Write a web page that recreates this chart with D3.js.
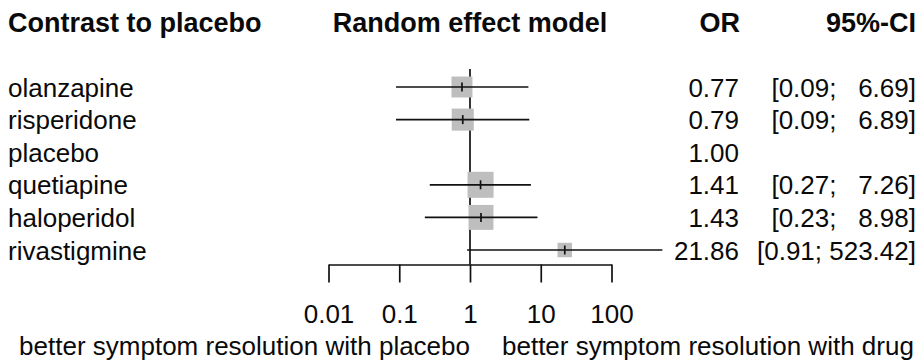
<!DOCTYPE html>
<html>
<head>
<meta charset="utf-8">
<script src="https://cdn.jsdelivr.net/npm/d3@7"></script>
<style>
  html, body { margin: 0; padding: 0; background: #fff; }
  svg text { font-family: "Liberation Sans", Arial, sans-serif; fill: #0a0a0a; white-space: pre; }
</style>
</head>
<body>
<svg id="chart" width="919" height="363"></svg>
<script>
// ---- data ----
const treatments = ["olanzapine", "risperidone", "placebo", "quetiapine", "haloperidol", "rivastigmine"];
const oddsRatio  = [0.77, 0.79, 1.00, 1.41, 1.43, 21.86];
const ciLower    = [0.09, 0.09, null, 0.27, 0.23, 0.91];
const ciUpper    = [6.69, 6.89, null, 7.26, 8.98, 523.42];
const weights    = [0.65, 0.72, null, 1.0, 0.92, 0.31];
const tickValues = [0.01, 0.1, 1, 10, 100];
const tickLabels = ["0.01", "0.1", "1", "10", "100"];
const headers    = ["Contrast to placebo", "Random effect model", "OR", "95%-CI"];
const labelLeft  = "better symptom resolution with placebo";
const labelRight = "better symptom resolution with drug";

// ---- layout ----
const svg = d3.select("#chart");
const FS = 26;
const FSB = 27;
const x = d3.scaleLog().domain([0.01, 100]).range([328.5, 611.5]);
const y = d3.scaleLinear().domain([0, treatments.length - 1]).range([87, 250]);
const side = d3.scaleSqrt().domain([0, 1]).range([0, 26]);
const axisY = 264.5;
const lw = 1.7;

// headers
const hdr = svg.append("g").attr("font-weight", "bold").attr("font-size", FSB);
hdr.append("text").attr("x", 8).attr("y", 32).text(headers[0]);
hdr.append("text").attr("x", x(1)).attr("y", 32).attr("text-anchor", "middle").text(headers[1]);
hdr.append("text").attr("x", 740).attr("y", 32).attr("text-anchor", "end").text(headers[2]);
hdr.append("text").attr("x", 916).attr("y", 32).attr("text-anchor", "end").text(headers[3]);

// reference line at OR = 1
svg.append("line")
  .attr("x1", x(1)).attr("x2", x(1))
  .attr("y1", 69).attr("y2", axisY)
  .attr("stroke", "#111").attr("stroke-width", lw);

const rows = treatments.map((t, i) => ({
  t, or: oddsRatio[i], lo: ciLower[i], hi: ciUpper[i], w: weights[i], i
}));

const g = svg.append("g");
const has = rows.filter(d => d.lo != null);

// squares
g.selectAll("rect.sq").data(has).join("rect")
  .attr("class", "sq")
  .attr("x", d => x(d.or) - side(d.w) / 2)
  .attr("y", d => y(d.i) - side(d.w) / 2)
  .attr("width", d => side(d.w))
  .attr("height", d => side(d.w))
  .attr("fill", "#bebebe");

// CI lines
g.selectAll("line.ci").data(has).join("line")
  .attr("class", "ci")
  .attr("x1", d => x(d.lo)).attr("x2", d => x(d.hi))
  .attr("y1", d => y(d.i)).attr("y2", d => y(d.i))
  .attr("stroke", "#111").attr("stroke-width", lw);

// point estimate ticks
g.selectAll("line.est").data(has).join("line")
  .attr("class", "est")
  .attr("x1", d => x(d.or)).attr("x2", d => x(d.or))
  .attr("y1", d => y(d.i) - 4.5).attr("y2", d => y(d.i) + 4.5)
  .attr("stroke", "#111").attr("stroke-width", lw);

// row labels
g.selectAll("text.lab").data(rows).join("text")
  .attr("class", "lab").attr("font-size", FS)
  .attr("x", 8).attr("y", d => y(d.i) + 9.5)
  .text(d => d.t);

// OR column
g.selectAll("text.or").data(rows).join("text")
  .attr("class", "or").attr("font-size", FS)
  .attr("text-anchor", "end")
  .attr("x", 739).attr("y", d => y(d.i) + 9.5)
  .text(d => d.or.toFixed(2));

// CI column
const upStr = ciUpper.filter(v => v != null).map(v => v.toFixed(2));
const loStr = ciLower.filter(v => v != null).map(v => v.toFixed(2));
const maxUp = d3.max(upStr, s => s.length);
const maxLo = d3.max(loStr, s => s.length);
g.selectAll("text.ci").data(has).join("text")
  .attr("class", "ci").attr("font-size", FS)
  .attr("xml:space", "preserve")
  .attr("text-anchor", "end")
  .attr("x", 916).attr("y", d => y(d.i) + 9.5)
  .text(d => {
    const lo = d.lo.toFixed(2), hi = d.hi.toFixed(2);
    return "[" + " ".repeat(maxLo - lo.length) + lo + ";" + " ".repeat(maxUp - hi.length + 1) + hi + "]";
  });

// axis
const axis = d3.axisBottom(x)
  .tickValues(tickValues)
  .tickFormat((d, i) => tickLabels[i])
  .tickSize(18)
  .tickSizeOuter(0);
const ax = svg.append("g").attr("transform", `translate(0,${axisY})`).call(axis);
ax.select(".domain").attr("stroke", "#111").attr("stroke-width", lw);
ax.selectAll(".tick line").attr("stroke", "#111").attr("stroke-width", lw);
ax.selectAll(".tick text")
  .attr("font-size", FS)
  .attr("font-family", "'Liberation Sans', Arial, sans-serif")
  .attr("fill", "#0a0a0a")
  .attr("y", 323 - axisY).attr("dy", 0);

// bottom labels
svg.append("text").attr("font-size", FS).attr("text-anchor", "end")
  .attr("x", 470).attr("y", 354.5).text(labelLeft);
svg.append("text").attr("font-size", FS)
  .attr("x", 502).attr("y", 354.5).text(labelRight);
</script>
</body>
</html>
